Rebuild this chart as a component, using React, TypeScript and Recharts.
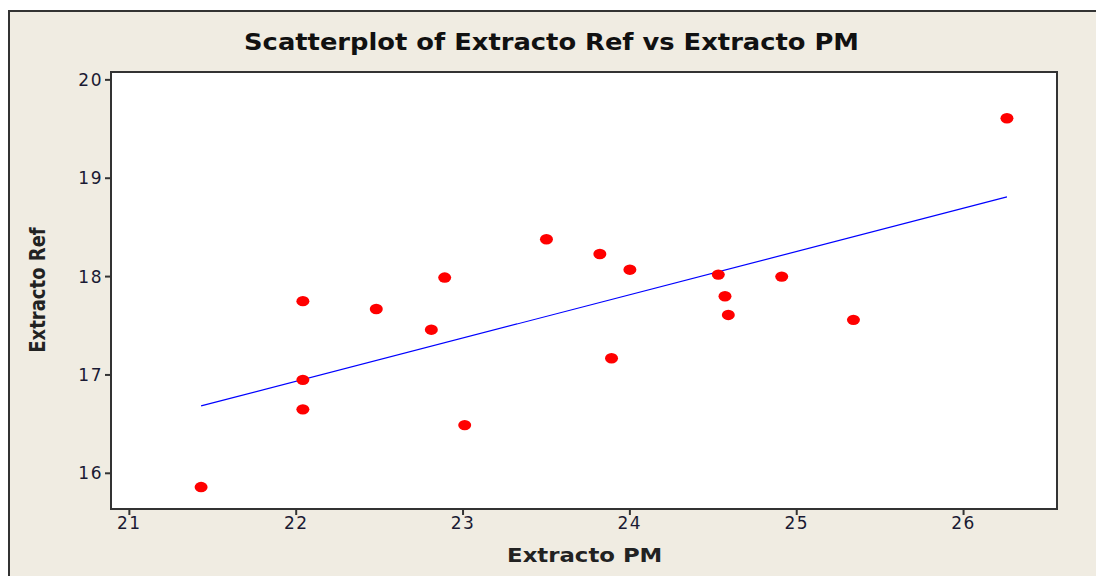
import React from "react";
import {
  ScatterChart,
  Scatter,
  XAxis,
  YAxis,
  CartesianGrid,
  ReferenceArea,
  ReferenceLine,
} from "recharts";

const extractoPM = [
  21.43, 22.04, 22.04, 22.04, 22.48, 22.81, 22.89, 23.01, 23.5, 23.82, 23.89,
  24.0, 24.53, 24.57, 24.59, 24.91, 25.34, 26.26,
];
const extractoRef = [
  15.86, 17.75, 16.95, 16.65, 17.67, 17.46, 17.99, 16.49, 18.38, 18.23, 17.17,
  18.07, 18.02, 17.8, 17.61, 18.0, 17.56, 19.61,
];
const fitX = [21.43, 26.26];
const fitY = [16.685, 18.81];
const xTicks = [21, 22, 23, 24, 25, 26];
const yTicks = [16, 17, 18, 19, 20];
const xDomain = [20.89, 26.56];
const yDomain = [15.637, 20.08];

const points = extractoPM.map((x, i) => ({ x, y: extractoRef[i] }));

const BG = "#f0ece2";
const TICK = "#1a1a33";
const FONT = "Tahoma, 'DejaVu Sans', Verdana, sans-serif";

const Dot = (props: any) => {
  const { cx, cy } = props;
  if (cx == null || cy == null) return null;
  return <ellipse cx={cx} cy={cy} rx={6.5} ry={5.2} fill="#ff0000" />;
};

export default function App() {
  return (
    <div
      style={{
        position: "fixed",
        left: 8,
        top: 10,
        width: 1088,
        height: 566,
        background: BG,
        fontFamily: FONT,
      }}
    >
      <div
        style={{
          position: "absolute",
          left: 0,
          top: 0,
          width: 1200,
          height: 700,
          borderLeft: "2px solid #333",
          borderTop: "2px solid #333",
          pointerEvents: "none",
          zIndex: 2,
        }}
      />
      <div
        style={{
          position: "absolute",
          left: 0,
          top: 18,
          width: 1088,
          textAlign: "center",
          paddingLeft: 0,
          boxSizing: "border-box",
          lineHeight: "28px",
        }}
      >
        <span
          style={{
            display: "inline-block",
            fontWeight: "bold",
            fontSize: 23,
            color: "#111",
            transform: "scaleX(1.12)",
            whiteSpace: "nowrap",
          }}
        >
          Scatterplot of Extracto Ref vs Extracto PM
        </span>
      </div>
      <div
        style={{
          position: "absolute",
          left: 103,
          width: 946,
          top: 534,
          textAlign: "center",
          lineHeight: "22px",
          paddingLeft: 2,
          boxSizing: "border-box",
        }}
      >
        <span
          style={{
            display: "inline-block",
            fontWeight: "bold",
            fontSize: 19,
            color: "#222",
            transform: "scaleX(1.2)",
            whiteSpace: "nowrap",
          }}
        >
          Extracto PM
        </span>
      </div>
      <div
        style={{
          position: "absolute",
          left: 30,
          top: 280,
          width: 0,
          height: 0,
        }}
      >
        <div
          style={{
            position: "absolute",
            transform: "translate(-50%, -50%) rotate(-90deg) scaleY(1.15)",
            whiteSpace: "nowrap",
            fontWeight: "bold",
            fontSize: 18,
            color: "#222",
          }}
        >
          Extracto Ref
        </div>
      </div>
      <ScatterChart
        width={1088}
        height={566}
        margin={{ top: 62, right: 39, bottom: 32, left: 43 }}
        style={{ position: "absolute", left: 0, top: 0 }}
      >
        <CartesianGrid
          fill="#ffffff"
          horizontal={false}
          vertical={false}
          stroke="none"
        />
        <XAxis
          type="number"
          dataKey="x"
          domain={xDomain}
          ticks={xTicks}
          allowDataOverflow
          axisLine={false}
          tickLine={{ stroke: "#333", strokeWidth: 2 }}
          tickSize={6}
          height={35}
          tick={{ fill: TICK, fontSize: 17, fontFamily: FONT, letterSpacing: 1.5 }}
          interval={0}
        />
        <YAxis
          type="number"
          dataKey="y"
          domain={yDomain}
          ticks={yTicks}
          allowDataOverflow
          axisLine={false}
          tickLine={{ stroke: "#333", strokeWidth: 2 }}
          tickSize={6}
          width={60}
          tick={{ fill: TICK, fontSize: 17, fontFamily: FONT, letterSpacing: 1.5 }}
          interval={0}
        />
        <ReferenceArea
          x1={xDomain[0]}
          x2={xDomain[1]}
          y1={yDomain[0]}
          y2={yDomain[1]}
          fill="none"
          fillOpacity={0}
          stroke="#333"
          strokeWidth={2}
        />
        <ReferenceLine
          segment={[
            { x: fitX[0], y: fitY[0] },
            { x: fitX[1], y: fitY[1] },
          ]}
          stroke="#0000ff"
          strokeWidth={1.2}
        />
        <Scatter
          data={points}
          shape={<Dot />}
          isAnimationActive={false}
        />
      </ScatterChart>
    </div>
  );
}
